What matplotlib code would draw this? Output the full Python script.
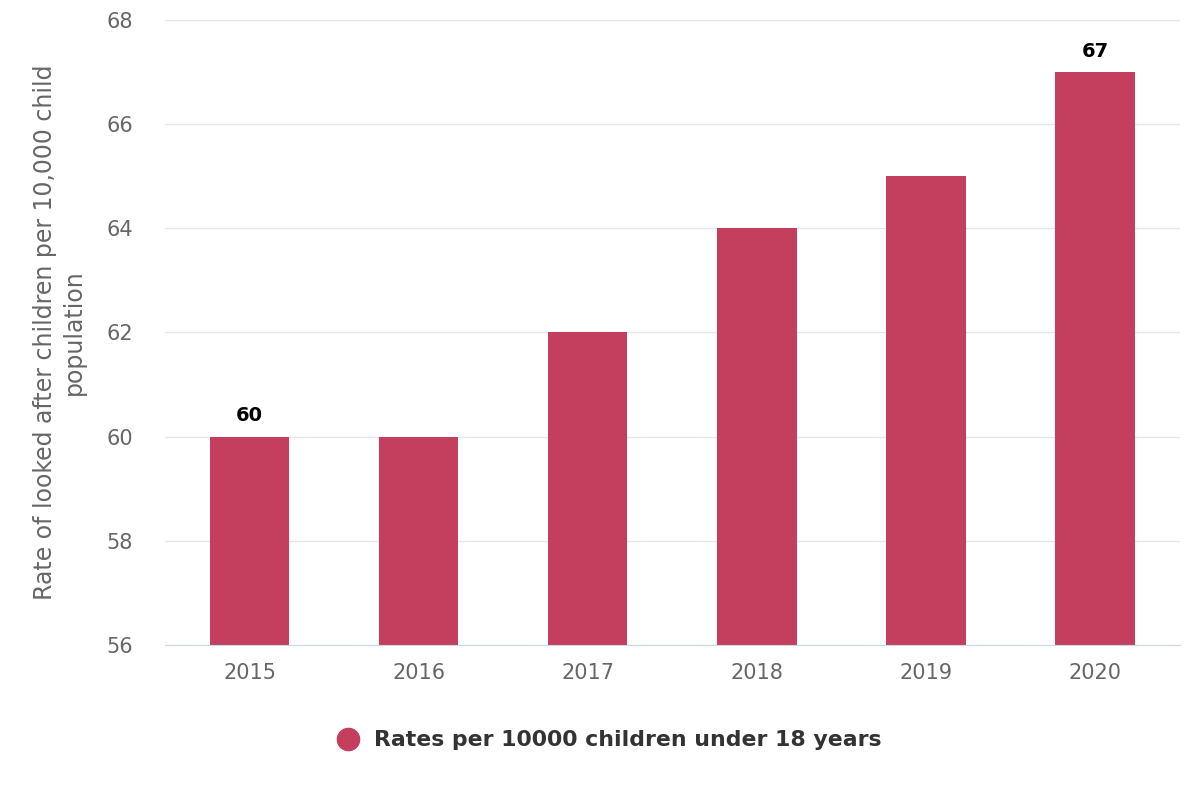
import matplotlib.pyplot as plt
from matplotlib.lines import Line2D
import numpy as np

plt.rcParams['font.family'] = ['DejaVu Sans']

years = ['2015', '2016', '2017', '2018', '2019', '2020']
rates = [60, 60, 62, 64, 65, 67]
shown_labels = ['60', '', '', '', '', '67']
series_name = 'Rates per 10000 children under 18 years'
y_ticks = [56, 58, 60, 62, 64, 66, 68]

bar_color = '#c43e5e'

fig = plt.figure(figsize=(12, 8), dpi=100)
ax = fig.add_axes([0.1375, 0.194, 0.8455, 0.781])

x = np.arange(len(years))
ax.bar(x, rates, width=0.47, color=bar_color, zorder=3)

# data labels only on first and last bar
for xi, val, lab in zip(x, rates, shown_labels):
    if lab:
        ax.annotate(lab, (xi, val), xytext=(0, 8), textcoords='offset points',
                    ha='center', va='bottom', fontsize=14, fontweight='bold',
                    color='#000000')

ax.set_xlim(-0.5, len(years) - 0.5)
ax.set_ylim(56, 68)
ax.set_yticks(y_ticks)
ax.set_xticks(x)
ax.set_xticklabels(years)
ax.tick_params(axis='both', length=0, labelsize=15, colors='#666666')
ax.tick_params(axis='x', pad=13)
ax.tick_params(axis='y', pad=23)

ax.grid(axis='y', color='#e6e6e6', linewidth=1, zorder=0)
for side in ['top', 'right', 'left']:
    ax.spines[side].set_visible(False)
ax.spines['bottom'].set_color('#ccd6eb')
ax.spines['bottom'].set_zorder(4)

ax.set_ylabel('Rate of looked after children per 10,000 child\npopulation',
              fontsize=17, color='#666666', labelpad=15, linespacing=1.25)

# legend
fig.add_artist(Line2D([348 / 1200], [1 - 739 / 800], marker='o', markersize=16,
                      color=bar_color, linestyle='none',
                      transform=fig.transFigure))
fig.text(374 / 1200, 1 - 740 / 800, series_name, ha='left', va='center',
         fontsize=15.8, fontweight='bold', color='#333333')

fig.savefig('out.png')
